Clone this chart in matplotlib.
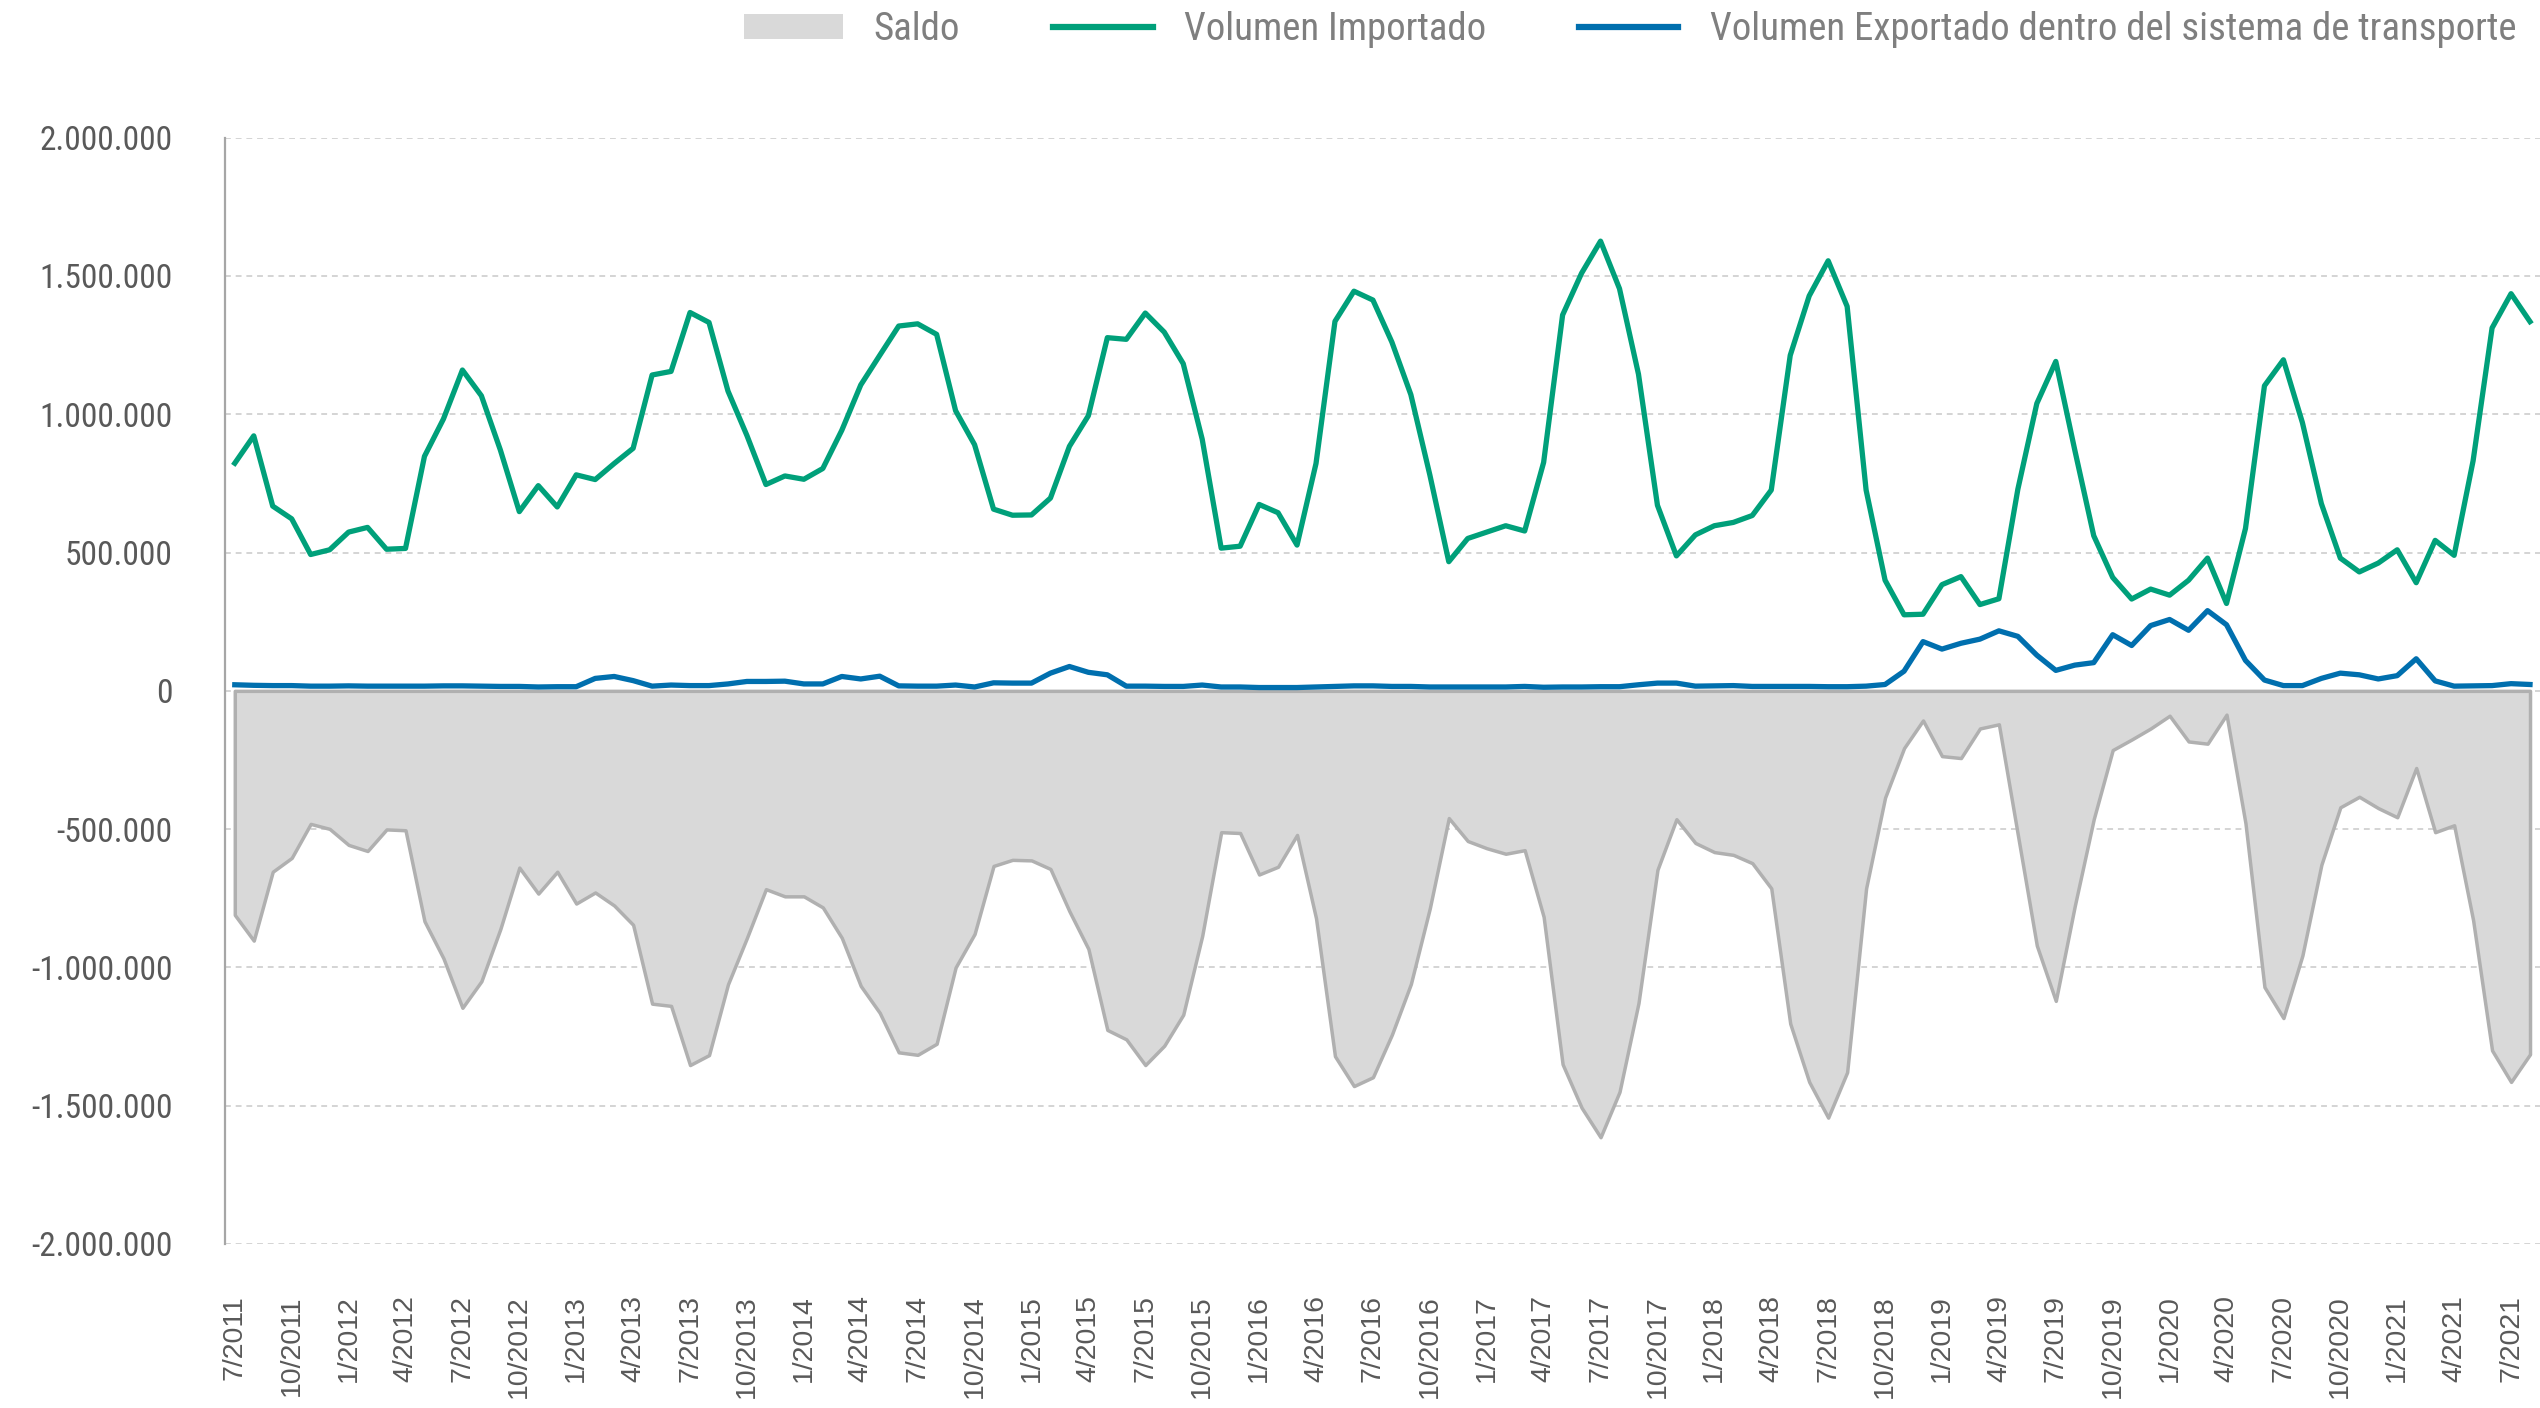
import matplotlib
matplotlib.use("Agg")
import matplotlib.pyplot as plt
from matplotlib import font_manager as fm
from matplotlib.patches import Patch
from matplotlib.lines import Line2D
from matplotlib.ticker import FuncFormatter

# ---------------- data ----------------
tick_labels = [
    "7/2011", "10/2011", "1/2012", "4/2012", "7/2012", "10/2012", "1/2013", "4/2013",
    "7/2013", "10/2013", "1/2014", "4/2014", "7/2014", "10/2014", "1/2015", "4/2015",
    "7/2015", "10/2015", "1/2016", "4/2016", "7/2016", "10/2016", "1/2017", "4/2017",
    "7/2017", "10/2017", "1/2018", "4/2018", "7/2018", "10/2018", "1/2019", "4/2019",
    "7/2019", "10/2019", "1/2020", "4/2020", "7/2020", "10/2020", "1/2021", "4/2021",
    "7/2021",
]

importado = [
    823000, 922000, 668000, 622000, 493000, 510000, 574000, 591000, 512000, 515000,
    848000, 983000, 1160000, 1067000, 871000, 648000, 742000, 665000, 781000, 764000,
    822000, 877000, 1142000, 1155000, 1368000, 1332000, 1084000, 923000, 746000, 777000,
    765000, 804000, 942000, 1106000, 1213000, 1319000, 1327000, 1289000, 1013000, 890000,
    657000, 635000, 636000, 697000, 884000, 995000, 1277000, 1271000, 1366000, 1297000,
    1183000, 910000, 516000, 523000, 674000, 644000, 527000, 822000, 1336000, 1445000,
    1413000, 1261000, 1071000, 781000, 467000, 551000, 574000, 597000, 578000, 826000,
    1359000, 1510000, 1626000, 1454000, 1145000, 671000, 488000, 564000, 597000, 609000,
    634000, 726000, 1213000, 1428000, 1555000, 1390000, 726000, 400000, 275000, 277000,
    384000, 413000, 312000, 333000, 729000, 1039000, 1191000, 871000, 561000, 410000,
    332000, 368000, 346000, 400000, 480000, 316000, 587000, 1103000, 1197000, 970000,
    677000, 480000, 430000, 462000, 510000, 391000, 544000, 490000, 832000, 1312000,
    1436000, 1335000,
]

exportado = [
    22000, 20000, 19000, 19000, 17000, 17000, 18000, 17000, 17000, 17000,
    17000, 18000, 18000, 17000, 16000, 16000, 14000, 15000, 15000, 45000,
    52000, 37000, 17000, 21000, 19000, 19000, 25000, 34000, 34000, 35000,
    25000, 25000, 52000, 43000, 53000, 18000, 17000, 17000, 21000, 14000,
    29000, 28000, 28000, 64000, 88000, 67000, 58000, 17000, 17000, 16000,
    16000, 21000, 14000, 14000, 12000, 12000, 12000, 14000, 16000, 18000,
    18000, 16000, 16000, 14000, 14000, 14000, 14000, 14000, 16000, 13000,
    14000, 14000, 15000, 15000, 22000, 28000, 28000, 17000, 18000, 19000,
    16000, 16000, 16000, 16000, 15000, 15000, 17000, 23000, 71000, 178000,
    151000, 172000, 187000, 217000, 197000, 129000, 74000, 93000, 102000, 203000,
    164000, 236000, 258000, 219000, 290000, 239000, 110000, 39000, 19000, 19000,
    45000, 64000, 58000, 43000, 55000, 116000, 36000, 17000, 18000, 19000,
    26000, 23000,
]

saldo = [
    -810000, -903000, -654000, -604000, -481000, -499000, -557000, -579000, -501000, -504000,
    -833000, -967000, -1146000, -1050000, -861000, -639000, -733000, -654000, -769000, -729000,
    -776000, -846000, -1131000, -1139000, -1353000, -1317000, -1061000, -893000, -717000, -743000,
    -743000, -783000, -893000, -1067000, -1164000, -1307000, -1316000, -1276000, -1000000, -879000,
    -633000, -611000, -613000, -644000, -797000, -933000, -1226000, -1260000, -1353000, -1283000,
    -1171000, -886000, -511000, -514000, -664000, -636000, -521000, -822000, -1321000, -1429000,
    -1397000, -1243000, -1060000, -786000, -460000, -543000, -569000, -589000, -576000, -817000,
    -1350000, -1507000, -1614000, -1450000, -1129000, -647000, -464000, -550000, -583000, -593000,
    -623000, -714000, -1203000, -1414000, -1543000, -1379000, -714000, -386000, -207000, -107000,
    -236000, -243000, -136000, -121000, -521000, -921000, -1121000, -778000, -464000, -214000,
    -176000, -136000, -90000, -183000, -191000, -86000, -479000, -1071000, -1183000, -957000,
    -629000, -421000, -383000, -424000, -457000, -279000, -511000, -486000, -829000, -1300000,
    -1414000, -1314000,
]

y_ticks = [-2000000, -1500000, -1000000, -500000, 0, 500000, 1000000, 1500000, 2000000]
series_names = ["Saldo", "Volumen Importado",
                "Volumen Exportado dentro del sistema de transporte"]

# ---------------- fonts ----------------
names = {f.name for f in fm.fontManager.ttflist}
if "Roboto Condensed" in names:
    cond = "Roboto Condensed"
elif "Liberation Sans Narrow" in names:
    cond = "Liberation Sans Narrow"
else:
    cond = "Roboto"
tick_font = "Liberation Sans" if "Liberation Sans" in names else "DejaVu Sans"

# ---------------- colours ----------------
c_green = "#00a07a"
c_blue = "#006fae"
c_fill = "#d9d9d9"
c_edge = "#b0b0b0"
c_text = "#595959"
c_legend = "#7f7f7f"

# ---------------- figure ----------------
W, H = 2540, 1408
fig = plt.figure(figsize=(W / 100, H / 100), dpi=100)
ax = fig.add_axes([225.3 / W, 1 - 1244 / H, (2539.5 - 225.3) / W, (1244 - 137.7) / H])

x = list(range(len(importado)))

ax.fill_between(x, saldo, 0, facecolor=c_fill, edgecolor=c_edge, linewidth=2.5, zorder=1)
ax.plot(x, importado, color=c_green, linewidth=3.8, zorder=3)
ax.plot(x, exportado, color=c_blue, linewidth=3.8, zorder=4)

ax.set_xlim(-0.5, len(importado) - 0.5)
ax.set_ylim(-2000000, 2000000)
ax.set_yticks(y_ticks)
ax.yaxis.set_major_formatter(
    FuncFormatter(lambda v, p: f"{int(round(v)):,}".replace(",", ".")))

ax.set_xticks(list(range(0, len(importado), 3)))
ax.set_xticklabels(tick_labels, rotation=90, va="top", ha="center",
                   fontfamily=tick_font, fontsize=20.5, color=c_text)

ax.tick_params(axis="x", length=0, pad=37)
ax.tick_params(axis="y", length=0, pad=38, labelsize=24, labelcolor=c_text)
for lab in ax.get_yticklabels():
    lab.set_fontfamily(cond)

ax.yaxis.grid(True, linestyle=(0, (3, 2.5)), color="#d4d4d4", linewidth=1.4)
ax.xaxis.grid(False)
ax.set_axisbelow(True)

for s in ["top", "right", "bottom"]:
    ax.spines[s].set_visible(False)
ax.spines["left"].set_color("#a6a6a6")
ax.spines["left"].set_linewidth(1.6)

handles = [
    Patch(facecolor=c_fill, edgecolor="none"),
    Line2D([0], [0], color=c_green, linewidth=4.5),
    Line2D([0], [0], color=c_blue, linewidth=4.5),
]
leg = fig.legend(handles, series_names, ncol=3, loc="center right",
                 bbox_to_anchor=(2516 / W, 1 - 30 / H), frameon=False,
                 prop={"family": cond, "size": 28}, labelcolor=c_legend,
                 handlelength=2.55, handleheight=0.6, handletextpad=0.8,
                 columnspacing=2.4, borderpad=0, borderaxespad=0)

fig.savefig("out.png", dpi=100)
